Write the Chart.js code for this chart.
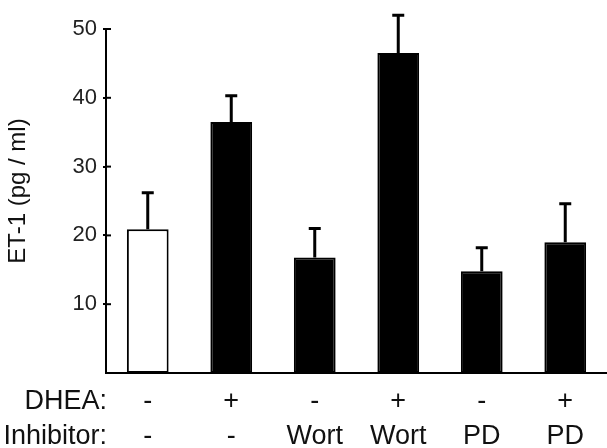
<!DOCTYPE html>
<html>
<head>
<meta charset="utf-8">
<script src="https://cdn.jsdelivr.net/npm/chart.js@4"></script>
<style>
  body { margin: 0; background: #fff; }
  #wrap { width: 607px; height: 448px; }
</style>
</head>
<body>
<div id="wrap"><canvas id="chart" width="607" height="448"></canvas></div>
<script>
// values
const dheaRow = ['-', '+', '-', '+', '-', '+'];
const inhibitorRow = ['-', '-', 'Wort', 'Wort', 'PD', 'PD'];
const et1Means = [20.9, 36.5, 16.8, 46.5, 14.8, 19.0];
const et1Errors = [5.3, 3.8, 4.2, 5.5, 3.4, 5.6];
const yTicks = [10, 20, 30, 40, 50];

const FONT = '"Liberation Sans", Arial, Helvetica, sans-serif';
const labels = dheaRow.map((d, i) => [d, inhibitorRow[i]]);

// upward error bars (mean + SEM), plus the short inner part of the y ticks
const errorBars = {
  id: 'errorBars',
  afterDatasetsDraw(chart) {
    const ctx = chart.ctx;
    const y = chart.scales.y;
    const meta = chart.getDatasetMeta(0);
    ctx.save();
    ctx.strokeStyle = '#000';
    ctx.lineWidth = 3;
    meta.data.forEach((bar, i) => {
      const top = y.getPixelForValue(et1Means[i]);
      const end = y.getPixelForValue(et1Means[i] + et1Errors[i]);
      ctx.beginPath();
      ctx.moveTo(bar.x, top);
      ctx.lineTo(bar.x, end);
      ctx.moveTo(bar.x - 6, end);
      ctx.lineTo(bar.x + 6, end);
      ctx.stroke();
    });
    ctx.lineWidth = 2;
    const left = chart.chartArea.left;
    yTicks.forEach(v => {
      const py = y.getPixelForValue(v);
      ctx.beginPath();
      ctx.moveTo(left, py);
      ctx.lineTo(left + 5, py);
      ctx.stroke();
    });
    ctx.restore();
  }
};

// y title and row headers under the x axis
const sideLabels = {
  id: 'sideLabels',
  afterDraw(chart) {
    const ctx = chart.ctx;
    ctx.save();
    ctx.fillStyle = '#111';
    ctx.font = '24px ' + FONT;
    ctx.textAlign = 'center';
    ctx.textBaseline = 'middle';
    ctx.translate(18, 191);
    ctx.rotate(-Math.PI / 2);
    ctx.fillText('ET-1 (pg / ml)', 0, 0);
    ctx.restore();

    ctx.save();
    ctx.fillStyle = '#111';
    ctx.font = '27px ' + FONT;
    ctx.textAlign = 'right';
    ctx.textBaseline = 'middle';
    ctx.fillText('DHEA:', 107, 402);
    ctx.fillText('Inhibitor:', 107, 437);
    ctx.restore();
  }
};

new Chart(document.getElementById('chart'), {
  type: 'bar',
  data: {
    labels: labels,
    datasets: [{
      data: et1Means,
      backgroundColor: ctx => ctx.dataIndex === 0 ? '#fff' : '#000',
      borderColor: '#000',
      borderWidth: 2,
      borderSkipped: false,
      barPercentage: 0.5,
      categoryPercentage: 1.0
    }]
  },
  options: {
    responsive: false,
    animation: false,
    layout: { padding: { top: 29, right: 0, bottom: 0, left: 0 } },
    plugins: {
      legend: { display: false },
      tooltip: { enabled: false }
    },
    scales: {
      x: {
        grid: { display: false, drawTicks: false },
        border: { display: true, color: '#000', width: 2 },
        ticks: {
          color: '#111',
          padding: 11,
          maxRotation: 0,
          autoSkip: false,
          font: { family: FONT, size: 27, lineHeight: 1.3 }
        },
        afterFit: s => { s.height = 75; }
      },
      y: {
        min: 0,
        max: 50,
        afterBuildTicks: s => { s.ticks = yTicks.map(v => ({ value: v })); },
        grid: { drawOnChartArea: false, color: '#000', lineWidth: 2, tickLength: 3 },
        border: { display: true, color: '#000', width: 2 },
        ticks: {
          color: '#222',
          padding: 6,
          font: { family: FONT, size: 22 }
        },
        afterFit: s => { s.width = 106; }
      }
    }
  },
  plugins: [errorBars, sideLabels]
});
</script>
</body>
</html>
